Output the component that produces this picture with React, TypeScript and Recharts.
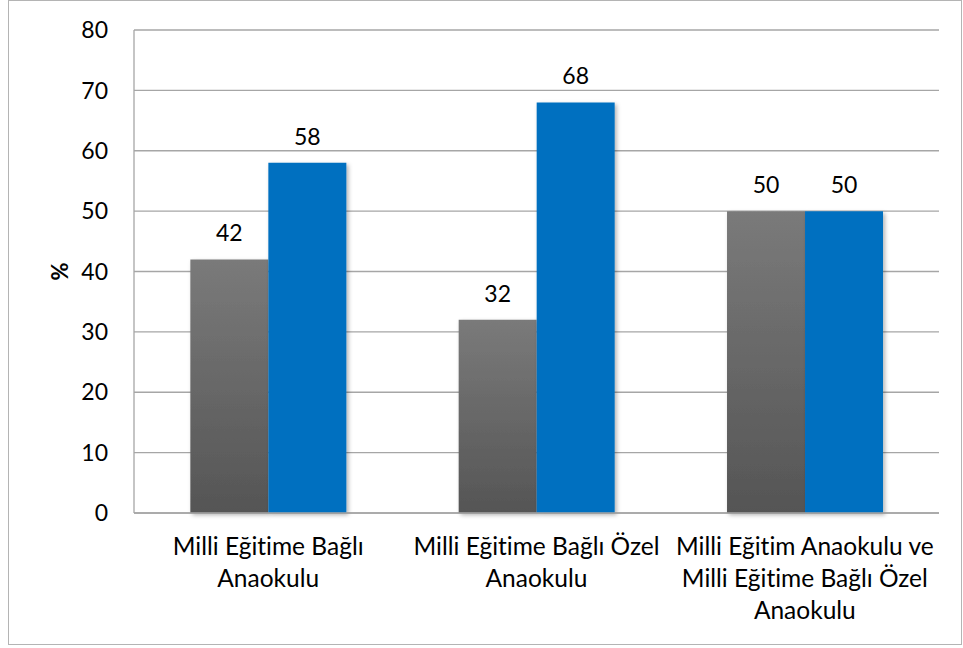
import React from "react";
import { BarChart, Bar, XAxis, YAxis, CartesianGrid, LabelList } from "recharts";

const categories = [
  "Milli Eğitime Bağlı\nAnaokulu",
  "Milli Eğitime Bağlı Özel\nAnaokulu",
  "Milli Eğitim Anaokulu ve\nMilli Eğitime Bağlı Özel\nAnaokulu",
];
const series1 = [42, 32, 50];
const series2 = [58, 68, 50];
const yTicks = [0, 10, 20, 30, 40, 50, 60, 70, 80];

const data = categories.map((c, i) => ({ name: c, s1: series1[i], s2: series2[i] }));

const FONT = "Lato, 'Open Sans', sans-serif";
const FS = 23;
const textStyle = { fontVariantLigatures: "none" as const };

const CatTick = (props: any) => {
  const { x, y, payload } = props;
  const lines = String(payload.value).split("\n");
  return (
    <text x={x} y={y} textAnchor="middle" fill="#000" fontSize={24.5} fontFamily={FONT} style={textStyle}>
      {lines.map((l: string, i: number) => (
        <tspan key={i} x={x} dy={i === 0 ? 34 : 32}>
          {l}
        </tspan>
      ))}
    </text>
  );
};

export default function App() {
  return (
    <div style={{ position: "absolute", left: 0, top: 0, width: 963, height: 648, background: "#fff" }}>
      <div
        style={{
          position: "absolute",
          left: 8,
          top: 0,
          width: 954,
          height: 645,
          border: "1px solid #b4b4b4",
          boxSizing: "border-box",
        }}
      />
      <div style={{ position: "absolute", left: 0, top: 0 }}>
        <BarChart
          width={963}
          height={648}
          data={data}
          margin={{ top: 30, right: 24, bottom: 105, left: 74 }}
          barCategoryGap="21%"
          barGap={0}
        >
          <defs>
            <linearGradient id="grayGrad" x1="0" y1="0" x2="0" y2="1">
              <stop offset="0%" stopColor="#7a7a7a" />
              <stop offset="100%" stopColor="#555555" />
            </linearGradient>
            <filter id="shadow" x="-10%" y="-10%" width="130%" height="130%">
              <feDropShadow dx="2" dy="2" stdDeviation="2" floodColor="#000" floodOpacity="0.3" />
            </filter>
          </defs>
          <CartesianGrid vertical={false} stroke="#a6a6a6" strokeWidth={1.3} />
          <XAxis
            dataKey="name"
            interval={0}
            tickLine={false}
            axisLine={{ stroke: "#a6a6a6", strokeWidth: 1.3 }}
            tick={<CatTick />}
          />
          <YAxis
            width={60}
            domain={[0, 80]}
            ticks={yTicks}
            tickLine={false}
            tickMargin={20}
            axisLine={{ stroke: "#a6a6a6", strokeWidth: 1.3 }}
            tick={{ fill: "#000", fontSize: FS, fontFamily: FONT }}
            label={{
              value: "%",
              angle: -90,
              position: "insideLeft",
              offset: -14,
              style: { fill: "#000", fontSize: 22, fontWeight: "bold", fontFamily: FONT, textAnchor: "middle" },
            }}
          />
          <Bar dataKey="s1" name="Seri 1" fill="url(#grayGrad)" isAnimationActive={false} filter="url(#shadow)">
            <LabelList dataKey="s1" position="top" offset={18} fill="#000" fontSize={FS} fontFamily={FONT} />
          </Bar>
          <Bar dataKey="s2" name="Seri 2" fill="#0070C0" isAnimationActive={false} filter="url(#shadow)">
            <LabelList dataKey="s2" position="top" offset={18} fill="#000" fontSize={FS} fontFamily={FONT} />
          </Bar>
        </BarChart>
      </div>
    </div>
  );
}
